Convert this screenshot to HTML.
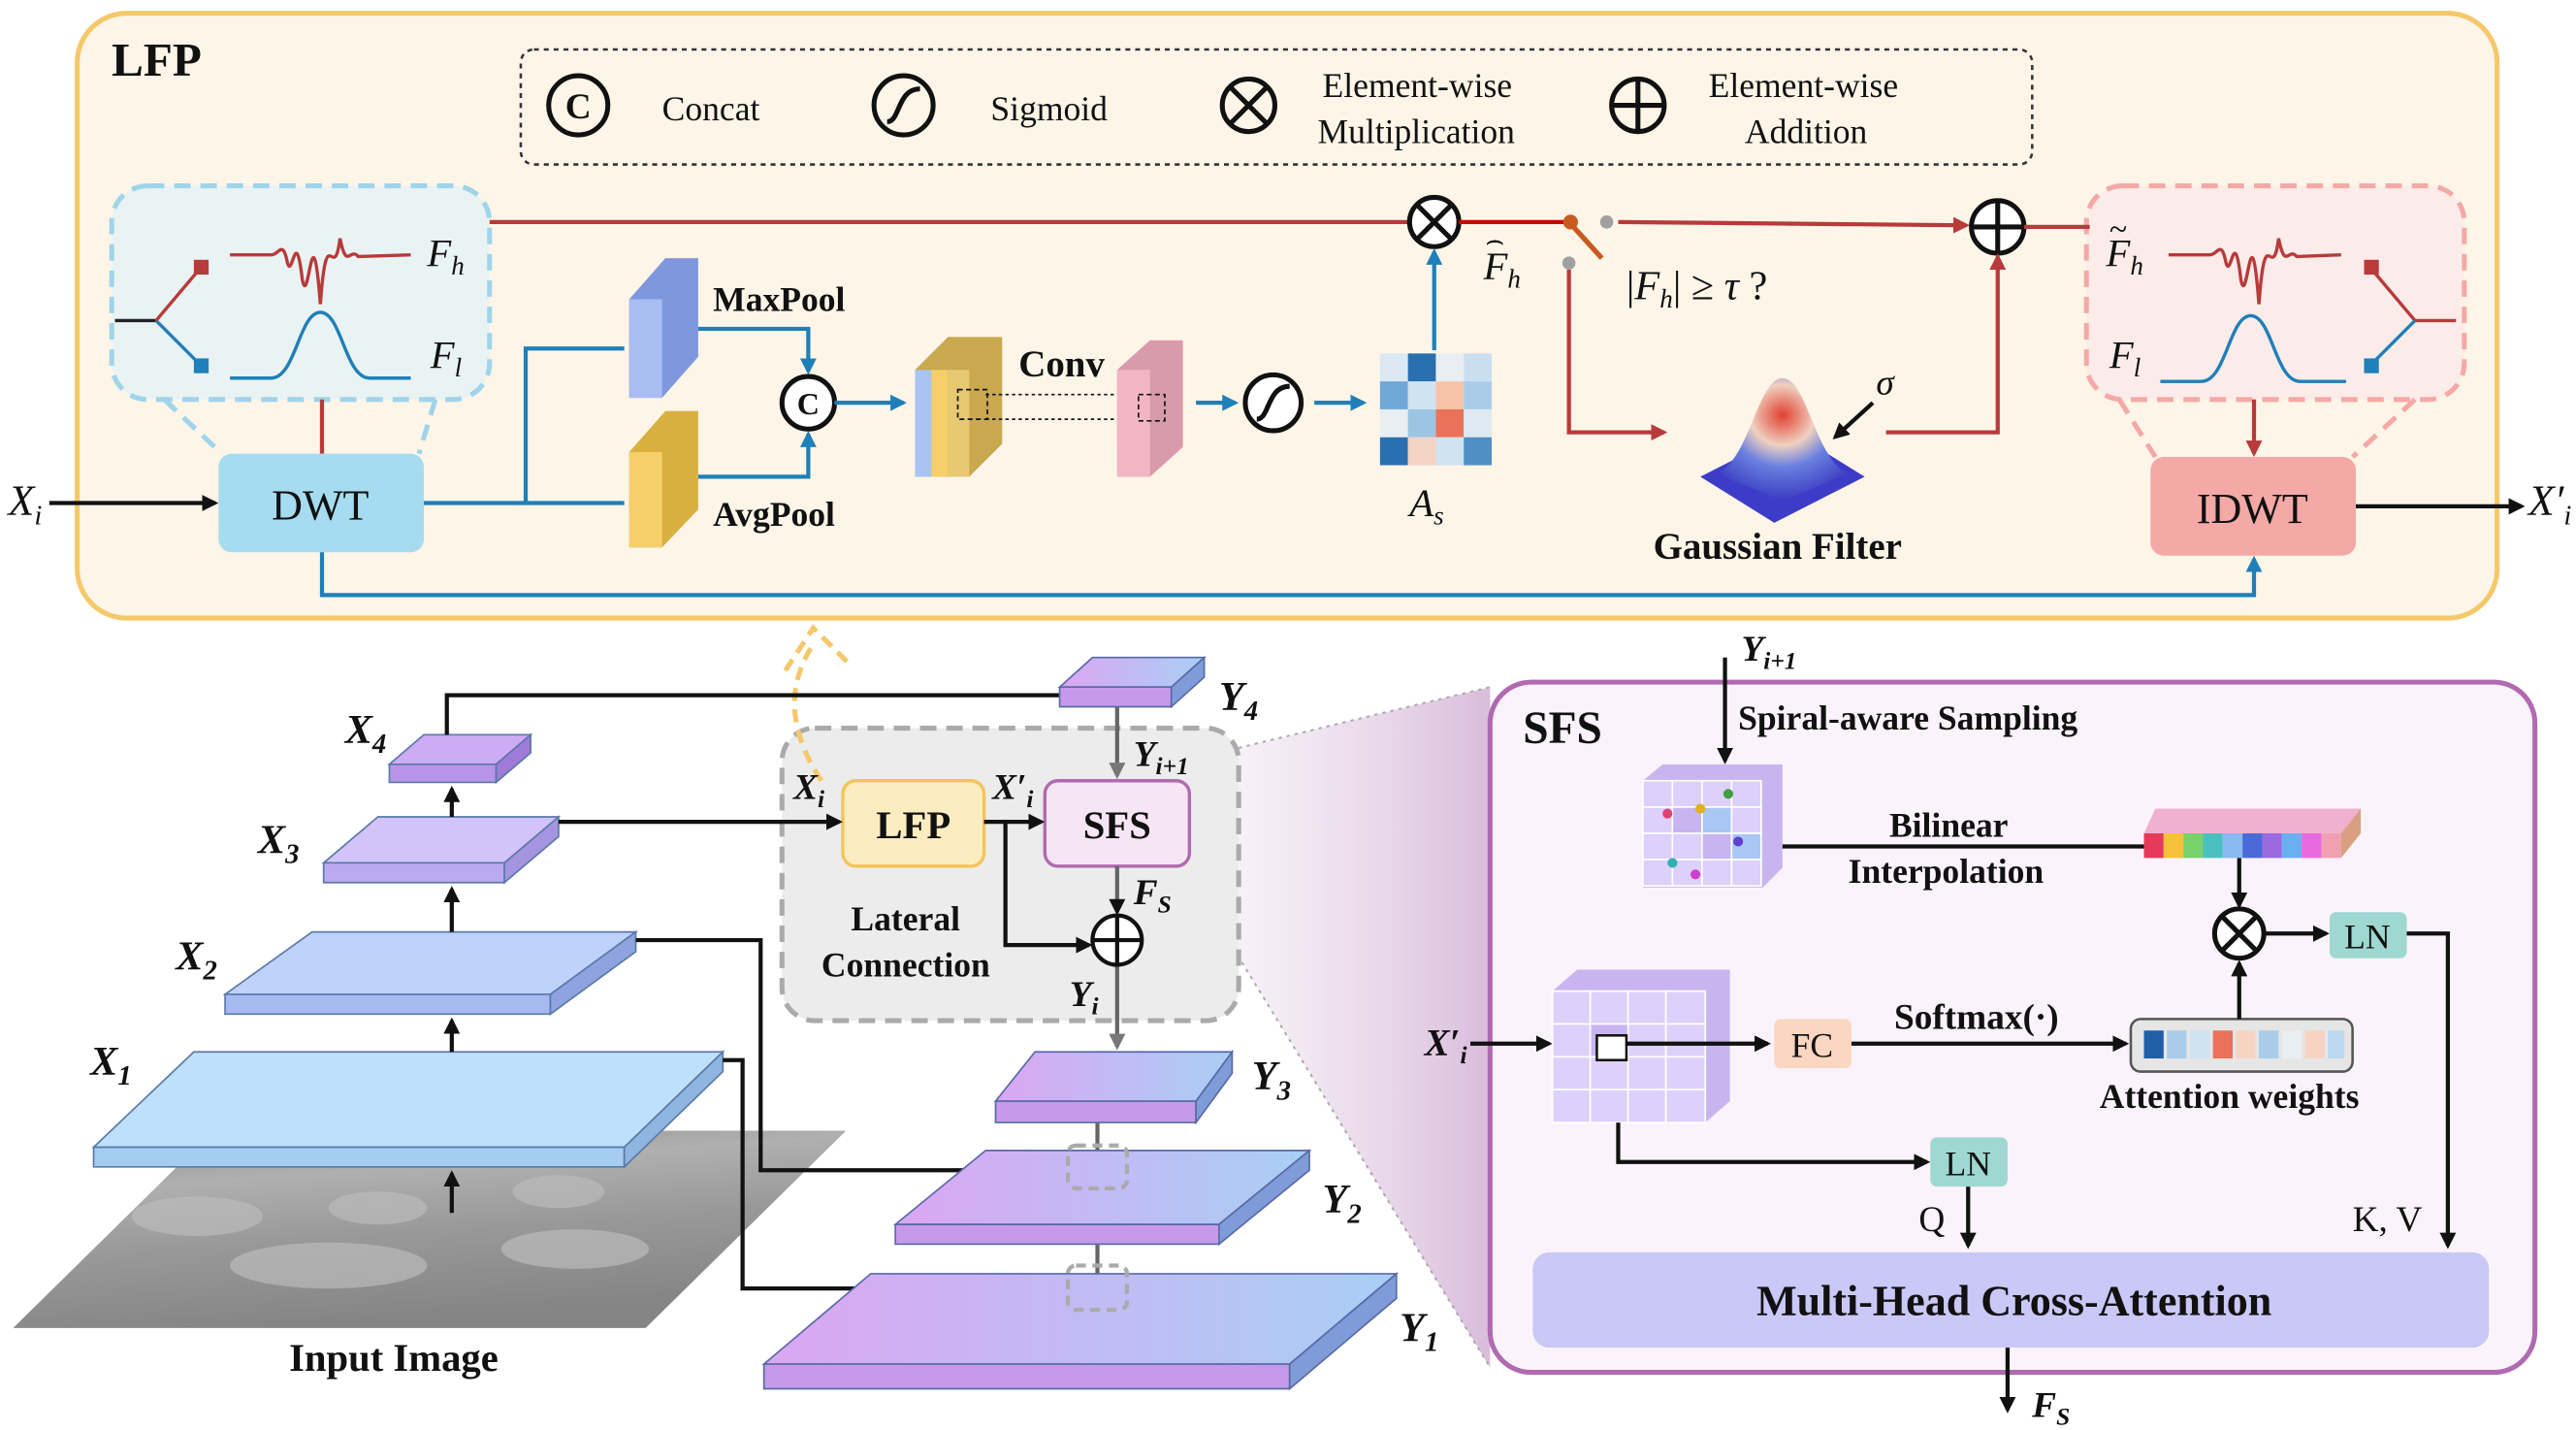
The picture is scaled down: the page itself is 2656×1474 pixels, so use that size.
<!DOCTYPE html>
<html><head><meta charset="utf-8"><style>
html,body{margin:0;padding:0;background:#fff}
svg{display:block}
text{font-family:"Liberation Serif",serif;fill:#111}
.b{font-weight:bold}
.i{font-style:italic}
</style></head><body>
<svg width="2656" height="1474" viewBox="0 0 1568 870" xmlns="http://www.w3.org/2000/svg">
<defs>
<marker id="ak" markerWidth="10" markerHeight="10" refX="8" refY="5" orient="auto" markerUnits="userSpaceOnUse"><path d="M0,0 L10,5 L0,10 z" fill="#111"/></marker>
<marker id="ab" markerWidth="10" markerHeight="10" refX="8" refY="5" orient="auto" markerUnits="userSpaceOnUse"><path d="M0,0 L10,5 L0,10 z" fill="#1f7fb8"/></marker>
<marker id="ar" markerWidth="10" markerHeight="10" refX="8" refY="5" orient="auto" markerUnits="userSpaceOnUse"><path d="M0,0 L10,5 L0,10 z" fill="#b83a3a"/></marker>
<marker id="ag" markerWidth="10" markerHeight="10" refX="8" refY="5" orient="auto" markerUnits="userSpaceOnUse"><path d="M0,0 L10,5 L0,10 z" fill="#777"/></marker>
<linearGradient id="gy" x1="0" x2="1"><stop offset="0" stop-color="#dba6f2"/><stop offset="1" stop-color="#a9cff5"/></linearGradient>
<linearGradient id="gimg" x1="0" y1="0" x2="0.3" y2="1"><stop offset="0" stop-color="#8a8a8a"/><stop offset=".3" stop-color="#b0b0b0"/><stop offset=".6" stop-color="#999"/><stop offset="1" stop-color="#858585"/></linearGradient>
<linearGradient id="gsh" x1="0" x2="1"><stop offset="0" stop-color="#e8d6ea" stop-opacity=".2"/><stop offset="1" stop-color="#c9a0cc" stop-opacity=".7"/></linearGradient>
<radialGradient id="gg" cx=".5" cy=".3" r=".7"><stop offset="0" stop-color="#e04030"/><stop offset=".35" stop-color="#f0d0c0"/><stop offset=".6" stop-color="#6a80e0"/><stop offset="1" stop-color="#3a3ac0"/></radialGradient>
</defs>

<rect x="47" y="8" width="1473" height="368" rx="30" fill="#fdf5e8" stroke="#f5c86a" stroke-width="3"/>
<text x="68" y="46" font-size="29" class="b">LFP</text>
<rect x="317" y="30" width="920" height="70" rx="8" fill="none" stroke="#333" stroke-width="1.5" stroke-dasharray="3,3"/>
<circle cx="352" cy="64" r="18" fill="none" stroke="#111" stroke-width="3"/><text x="352" y="72" font-size="22" text-anchor="middle" class="b">C</text>
<text x="403" y="73" font-size="21">Concat</text>
<circle cx="550" cy="64" r="18" fill="none" stroke="#111" stroke-width="3"/><path d="M540,74 C548,74 546,54 560,54" fill="none" stroke="#111" stroke-width="3"/>
<text x="603" y="73" font-size="21">Sigmoid</text>
<circle cx="760" cy="64" r="16" fill="none" stroke="#111" stroke-width="3"/><path d="M749,53 L771,75 M771,53 L749,75" stroke="#111" stroke-width="3"/>
<text x="805" y="59" font-size="21">Element-wise</text><text x="802" y="87" font-size="21">Multiplication</text>
<circle cx="997" cy="64" r="16" fill="none" stroke="#111" stroke-width="3"/><path d="M981,64 L1013,64 M997,48 L997,80" stroke="#111" stroke-width="3"/>
<text x="1040" y="59" font-size="21">Element-wise</text><text x="1062" y="87" font-size="21">Addition</text>

<rect x="68" y="113" width="230" height="130" rx="22" fill="#eaf3f3" stroke="#9fd4ea" stroke-width="3" stroke-dasharray="10,6"/>
<path d="M100,243 L135,276 M265,243 L255,276" stroke="#9fd4ea" stroke-width="3" stroke-dasharray="10,6"/>
<path d="M70,195 L95,195" fill="none" stroke="#222" stroke-width="2"/>
<path d="M95,195 L122,222" stroke="#1f7fb8" stroke-width="2"/><path d="M95,195 L122,163" stroke="#b83a3a" stroke-width="2"/>
<rect x="118" y="158" width="9" height="9" fill="#b83a3a"/><rect x="118" y="218" width="9" height="9" fill="#1f7fb8"/>
<path d="M140,155 L165,155 C170,155 172,145 175,160 C178,170 180,135 184,170 C188,190 190,120 195,185 C199,130 203,175 207,145 C211,165 213,150 218,156 L250,155" fill="none" stroke="#b83a3a" stroke-width="2"/>
<path d="M140,230 L165,230 C180,230 182,190 195,190 C208,190 210,230 225,230 L250,230" fill="none" stroke="#1f7fb8" stroke-width="2"/>
<text x="260" y="162" font-size="24" class="i">F<tspan font-size="16" dy="5">h</tspan></text>
<text x="262" y="224" font-size="24" class="i">F<tspan font-size="16" dy="5">l</tspan></text>

<rect x="1270" y="113" width="230" height="130" rx="22" fill="#fbecea" stroke="#f4a9a6" stroke-width="3" stroke-dasharray="10,6"/>
<path d="M1290,243 L1312,278 M1470,243 L1432,278" stroke="#f4a9a6" stroke-width="3" stroke-dasharray="10,6"/>
<path d="M1320,155 L1345,155 C1350,155 1352,145 1355,160 C1358,170 1360,135 1364,170 C1368,190 1370,120 1375,185 C1379,130 1383,175 1387,145 C1391,165 1393,150 1398,156 L1425,155" fill="none" stroke="#b83a3a" stroke-width="2"/>
<path d="M1315,232 L1340,232 C1355,232 1357,192 1370,192 C1383,192 1385,232 1400,232 L1428,232" fill="none" stroke="#1f7fb8" stroke-width="2"/>
<path d="M1443,163 L1470,195 L1495,195" fill="none" stroke="#b83a3a" stroke-width="2"/><path d="M1443,222 L1470,195" stroke="#1f7fb8" stroke-width="2"/>
<rect x="1439" y="158" width="9" height="9" fill="#b83a3a"/><rect x="1439" y="218" width="9" height="9" fill="#1f7fb8"/>
<text x="1282" y="162" font-size="24" class="i">F<tspan font-size="16" dy="5">h</tspan></text><text x="1284" y="146" font-size="20">~</text>
<text x="1284" y="224" font-size="24" class="i">F<tspan font-size="16" dy="5">l</tspan></text>

<line x1="196" y1="243" x2="196" y2="276" stroke="#b83a3a" stroke-width="2.5"/>
<line x1="1372" y1="243" x2="1372" y2="276" stroke="#b83a3a" stroke-width="2.5" marker-end="url(#ar)"/>
<rect x="133" y="276" width="125" height="60" rx="8" fill="#a6dcef"/>
<text x="195" y="316" font-size="26" text-anchor="middle">DWT</text>
<rect x="1309" y="278" width="125" height="60" rx="8" fill="#f4a9a6"/>
<text x="1371" y="318" font-size="26" text-anchor="middle">IDWT</text>
<text x="5" y="313" font-size="26" class="i">X<tspan font-size="17" dy="6">i</tspan></text>
<line x1="30" y1="306" x2="131" y2="306" stroke="#111" stroke-width="2.5" marker-end="url(#ak)"/>
<line x1="1434" y1="308" x2="1535" y2="308" stroke="#111" stroke-width="2.5" marker-end="url(#ak)"/>
<text x="1539" y="313" font-size="26" class="i">X′<tspan font-size="17" dy="6">i</tspan></text>

<line x1="298" y1="135" x2="858" y2="135" stroke="#b83a3a" stroke-width="2.5"/>
<circle cx="873" cy="135" r="15" fill="#fff" stroke="#111" stroke-width="3"/><path d="M863,125 L883,145 M883,125 L863,145" stroke="#111" stroke-width="3"/>
<line x1="888" y1="135" x2="995" y2="135" stroke="#c00" stroke-width="2.5"/>
<line x1="996" y1="135" x2="993" y2="135" stroke="none"/>
<line x1="956" y1="136" x2="975" y2="157" stroke="#c85a20" stroke-width="3"/>
<circle cx="996" cy="135" r="4" fill="#fdf5e8"/>
<rect x="957" y="130" width="40" height="10" fill="#fdf5e8"/>
<line x1="956" y1="136" x2="975" y2="157" stroke="#c85a20" stroke-width="3"/>
<circle cx="956" cy="135" r="4.5" fill="#c85a20"/><circle cx="978" cy="135" r="4" fill="#a0a0a0"/><circle cx="955" cy="160" r="4" fill="#a0a0a0"/>
<line x1="985" y1="135" x2="1197" y2="137" stroke="#b83a3a" stroke-width="2.5" marker-end="url(#ar)"/>
<circle cx="1216" cy="138" r="16" fill="#fff" stroke="#111" stroke-width="3"/><path d="M1200,138 L1232,138 M1216,122 L1216,154" stroke="#111" stroke-width="3"/>
<line x1="1232" y1="138" x2="1272" y2="138" stroke="#b83a3a" stroke-width="2.5"/>
<text x="903" y="170" font-size="24" class="i">F<tspan font-size="16" dy="5">h</tspan></text><text x="904" y="152" font-size="18">⌢</text>
<text x="990" y="182" font-size="25">|<tspan class="i">F</tspan><tspan font-size="16" dy="5" class="i">h</tspan><tspan dy="-5">| ≥ </tspan><tspan class="i">τ</tspan> ?</text>
<path d="M955,164 L955,263 L1013,263" fill="none" stroke="#b83a3a" stroke-width="2.5" marker-end="url(#ar)"/>
<path d="M1148,263 L1216,263 L1216,156" fill="none" stroke="#b83a3a" stroke-width="2.5" marker-end="url(#ar)"/>
<path d="M1035,290 L1080,318 L1135,290 L1090,262 Z" fill="#3c3cc8"/>
<path d="M1045,288 C1065,280 1070,230 1085,230 C1100,230 1105,280 1125,288 L1085,305 Z" fill="url(#gg)"/>
<text x="1082" y="340" font-size="23" class="b" text-anchor="middle">Gaussian Filter</text>
<text x="1142" y="240" font-size="22" class="i">σ</text>
<line x1="1140" y1="245" x2="1117" y2="266" stroke="#111" stroke-width="2.5" marker-end="url(#ak)"/>

<path d="M258,306 L380,306 M320,306 L320,212 L380,212" fill="none" stroke="#1f7fb8" stroke-width="2.5"/>
<path d="M425,200 L492,200 L492,226" fill="none" stroke="#1f7fb8" stroke-width="2.5" marker-end="url(#ab)"/>
<path d="M425,290 L492,290 L492,264" fill="none" stroke="#1f7fb8" stroke-width="2.5" marker-end="url(#ab)"/>
<path d="M196,336 L196,362 L1372,362 L1372,340" fill="none" stroke="#1f7fb8" stroke-width="2.5" marker-end="url(#ab)"/>
<path d="M383,182 L405,157 L425,157 L425,217 L403,242 L383,242 Z" fill="#7f97dd"/><rect x="383" y="182" width="20" height="60" fill="#a9bdf2"/>
<path d="M383,275 L405,250 L425,250 L425,310 L403,333 L383,333 Z" fill="#d9b040"/><rect x="383" y="275" width="20" height="58" fill="#f5cf6a"/>
<text x="434" y="189" font-size="21" class="b">MaxPool</text><text x="434" y="320" font-size="21" class="b">AvgPool</text>
<circle cx="492" cy="245" r="16" fill="#fff" stroke="#111" stroke-width="3"/><text x="492" y="252" font-size="19" text-anchor="middle" class="b">C</text>
<line x1="508" y1="245" x2="550" y2="245" stroke="#1f7fb8" stroke-width="2.5" marker-end="url(#ab)"/>
<path d="M557,225 L577,205 L610,205 L610,270 L590,290 L557,290 Z" fill="#c9a850"/>
<rect x="557" y="225" width="10" height="65" fill="#a9c3f2"/><rect x="567" y="225" width="10" height="65" fill="#f5cf6a"/><rect x="577" y="225" width="13" height="65" fill="#e8c870"/>
<rect x="583" y="237" width="18" height="18" fill="none" stroke="#111" stroke-dasharray="3,2"/>
<path d="M600,240 L695,240 M600,255 L695,255" stroke="#111" stroke-dasharray="2,2"/>
<text x="620" y="229" font-size="23" class="b">Conv</text>
<path d="M680,225 L700,207 L720,207 L720,272 L700,290 L680,290 Z" fill="#d99aab"/><rect x="680" y="225" width="20" height="65" fill="#f2b6c3"/>
<rect x="693" y="240" width="16" height="16" fill="none" stroke="#111" stroke-dasharray="3,2"/>
<line x1="728" y1="245" x2="752" y2="245" stroke="#1f7fb8" stroke-width="2.5" marker-end="url(#ab)"/>
<circle cx="775" cy="245" r="17" fill="#fff" stroke="#111" stroke-width="3"/><path d="M765,255 C773,255 771,235 785,235" fill="none" stroke="#111" stroke-width="3"/>
<line x1="800" y1="245" x2="830" y2="245" stroke="#1f7fb8" stroke-width="2.5" marker-end="url(#ab)"/>
<g>
<rect x="840" y="215" width="17" height="17" fill="#dde9f2"/><rect x="857" y="215" width="17" height="17" fill="#2a6fb0"/><rect x="874" y="215" width="17" height="17" fill="#e9eef3"/><rect x="891" y="215" width="17" height="17" fill="#c9dff0"/>
<rect x="840" y="232" width="17" height="17" fill="#6fa8d6"/><rect x="857" y="232" width="17" height="17" fill="#cfe3f1"/><rect x="874" y="232" width="17" height="17" fill="#f7c3a8"/><rect x="891" y="232" width="17" height="17" fill="#a9cde8"/>
<rect x="840" y="249" width="17" height="17" fill="#e8eef2"/><rect x="857" y="249" width="17" height="17" fill="#9cc5e4"/><rect x="874" y="249" width="17" height="17" fill="#e8735a"/><rect x="891" y="249" width="17" height="17" fill="#dfe9f1"/>
<rect x="840" y="266" width="17" height="17" fill="#2a6fb0"/><rect x="857" y="266" width="17" height="17" fill="#f3d3c4"/><rect x="874" y="266" width="17" height="17" fill="#cfe3f1"/><rect x="891" y="266" width="17" height="17" fill="#4f8fc6"/>
</g>
<text x="858" y="314" font-size="24" class="i">A<tspan font-size="16" dy="5">s</tspan></text>
<line x1="873" y1="213" x2="873" y2="153" stroke="#1f7fb8" stroke-width="2.5" marker-end="url(#ab)"/>

<path d="M8,808 L130,688 L515,688 L393,808 Z" fill="url(#gimg)"/>
<g fill="#bbb" opacity=".7"><ellipse cx="120" cy="740" rx="40" ry="12"/><ellipse cx="230" cy="735" rx="30" ry="10"/><ellipse cx="340" cy="725" rx="28" ry="10"/><ellipse cx="200" cy="770" rx="60" ry="14"/><ellipse cx="350" cy="760" rx="45" ry="12"/></g>
<text x="176" y="834" font-size="24" class="b">Input Image</text>
<g stroke="#5a7aa8" stroke-width="1">
<path d="M57,698 L118,640 L440,640 L380,698 Z" fill="#bfe0fa"/><path d="M57,698 L380,698 L380,710 L57,710 Z" fill="#a6ccef"/><path d="M380,698 L440,640 L440,652 L380,710 Z" fill="#8fb6e0"/>
<path d="M137,605 L190,567 L387,567 L335,605 Z" fill="#bfd2fa"/><path d="M137,605 L335,605 L335,617 L137,617 Z" fill="#a6baf0"/><path d="M335,605 L387,567 L387,579 L335,617 Z" fill="#8fa3e0"/>
<path d="M197,525 L230,497 L340,497 L307,525 Z" fill="#d3c3fa"/><path d="M197,525 L307,525 L307,537 L197,537 Z" fill="#bcaaf0"/><path d="M307,525 L340,497 L340,509 L307,537 Z" fill="#a594e0"/>
<path d="M237,465 L258,447 L323,447 L302,465 Z" fill="#cfaaf5"/><path d="M237,465 L302,465 L302,476 L237,476 Z" fill="#b893ea"/><path d="M302,465 L323,447 L323,458 L302,476 Z" fill="#a07ad8"/>
</g>
<g stroke="#111" stroke-width="2.5">
<line x1="275" y1="738" x2="275" y2="714" marker-end="url(#ak)"/>
<line x1="275" y1="640" x2="275" y2="621" marker-end="url(#ak)"/>
<line x1="275" y1="567" x2="275" y2="541" marker-end="url(#ak)"/>
<line x1="275" y1="497" x2="275" y2="480" marker-end="url(#ak)"/>
</g>
<text x="55" y="654" font-size="25" class="b i">X<tspan font-size="17" dy="6">1</tspan></text>
<text x="107" y="590" font-size="25" class="b i">X<tspan font-size="17" dy="6">2</tspan></text>
<text x="157" y="519" font-size="25" class="b i">X<tspan font-size="17" dy="6">3</tspan></text>
<text x="210" y="452" font-size="25" class="b i">X<tspan font-size="17" dy="6">4</tspan></text>

<path d="M754,455 L907,418 L907,832 L722,530 Z" fill="url(#gsh)"/>
<path d="M754,455 L907,418 M722,530 L907,832" stroke="#aaa" stroke-width="1.2" stroke-dasharray="2,3"/>

<rect x="476" y="443" width="278" height="178" rx="20" fill="#ececec" stroke="#aaa" stroke-width="3" stroke-dasharray="10,6"/>
<path d="M500,475 Q470,430 495,392" fill="none" stroke="#f5c86a" stroke-width="3" stroke-dasharray="8,5"/>
<path d="M478,408 L495,382 L518,405" fill="none" stroke="#f5c86a" stroke-width="3" stroke-dasharray="8,5"/>
<rect x="513" y="475" width="86" height="52" rx="8" fill="#fdecc0" stroke="#f4c45a" stroke-width="2"/>
<text x="556" y="510" font-size="24" class="b" text-anchor="middle">LFP</text>
<rect x="636" y="475" width="88" height="52" rx="8" fill="#f6e6f5" stroke="#b06ab0" stroke-width="2"/>
<text x="680" y="510" font-size="24" class="b" text-anchor="middle">SFS</text>
<text x="518" y="566" font-size="21" class="b">Lateral</text><text x="500" y="594" font-size="21" class="b">Connection</text>
<g stroke="#111" stroke-width="2.5" fill="none">
<path d="M272,447 L272,423 L645,423"/>
<line x1="340" y1="500" x2="511" y2="500" marker-end="url(#ak)"/>
<line x1="599" y1="500" x2="634" y2="500" marker-end="url(#ak)"/>
<path d="M612,500 L612,575 L663,575" marker-end="url(#ak)"/>
<path d="M387,572 L463,572 L463,712 L648,712" marker-end="url(#ak)"/>
<path d="M440,645 L452,645 L452,784 L648,784" marker-end="url(#ak)"/>
</g>
<g stroke="#666" stroke-width="2.5">
<line x1="680" y1="430" x2="680" y2="472" marker-end="url(#ag)"/>
<line x1="680" y1="527" x2="680" y2="555" marker-end="url(#ak)"/>
<line x1="680" y1="588" x2="680" y2="637" marker-end="url(#ag)"/>
<line x1="668" y1="683" x2="668" y2="717" marker-end="url(#ag)"/>
<line x1="668" y1="757" x2="668" y2="790" marker-end="url(#ag)"/>
</g>
<circle cx="680" cy="572" r="15" fill="#fff" stroke="#111" stroke-width="2.5"/><path d="M665,572 L695,572 M680,557 L680,587" stroke="#111" stroke-width="2.5"/>
<text x="483" y="486" font-size="22" class="b i">X<tspan font-size="15" dy="5">i</tspan></text>
<text x="604" y="486" font-size="22" class="b i">X′<tspan font-size="15" dy="5">i</tspan></text>
<text x="690" y="466" font-size="22" class="b i">Y<tspan font-size="15" dy="5">i+1</tspan></text>
<text x="690" y="550" font-size="22" class="b i">F<tspan font-size="15" dy="5">S</tspan></text>
<text x="651" y="612" font-size="22" class="b i">Y<tspan font-size="15" dy="5">i</tspan></text>

<g stroke="#5a6aa8" stroke-width="1">
<path d="M465,830 L530,775 L850,775 L785,830 Z" fill="url(#gy)"/><path d="M465,830 L785,830 L785,845 L465,845 Z" fill="#c69ae8"/><path d="M785,830 L850,775 L850,790 L785,845 Z" fill="#7f9cd8"/>
<path d="M545,745 L600,700 L797,700 L742,745 Z" fill="url(#gy)"/><path d="M545,745 L742,745 L742,757 L545,757 Z" fill="#c69ae8"/><path d="M742,745 L797,700 L797,712 L742,757 Z" fill="#7f9cd8"/>
<path d="M606,670 L630,640 L750,640 L728,670 Z" fill="url(#gy)"/><path d="M606,670 L728,670 L728,683 L606,683 Z" fill="#c69ae8"/><path d="M728,670 L750,640 L750,653 L728,683 Z" fill="#7f9cd8"/>
<path d="M645,418 L665,400 L733,400 L713,418 Z" fill="url(#gy)"/><path d="M645,418 L713,418 L713,430 L645,430 Z" fill="#c69ae8"/><path d="M713,418 L733,400 L733,412 L713,430 Z" fill="#7f9cd8"/>
</g>
<rect x="650" y="697" width="36" height="26" rx="5" fill="none" stroke="#aaa" stroke-width="2.5" stroke-dasharray="6,4"/>
<rect x="650" y="770" width="36" height="27" rx="5" fill="none" stroke="#aaa" stroke-width="2.5" stroke-dasharray="6,4"/>
<text x="742" y="432" font-size="25" class="b i">Y<tspan font-size="17" dy="6">4</tspan></text>
<text x="762" y="663" font-size="25" class="b i">Y<tspan font-size="17" dy="6">3</tspan></text>
<text x="805" y="738" font-size="25" class="b i">Y<tspan font-size="17" dy="6">2</tspan></text>
<text x="852" y="816" font-size="25" class="b i">Y<tspan font-size="17" dy="6">1</tspan></text>

<rect x="907" y="415" width="636" height="420" rx="25" fill="#fbf3fb" stroke="#b06ab0" stroke-width="3"/>
<text x="927" y="452" font-size="28" class="b">SFS</text>
<text x="1060" y="402" font-size="22" class="b i">Y<tspan font-size="15" dy="5">i+1</tspan></text>
<line x1="1050" y1="400" x2="1050" y2="463" stroke="#111" stroke-width="2.5" marker-end="url(#ak)"/>
<text x="1058" y="444" font-size="21" class="b">Spiral-aware Sampling</text>
<path d="M1000,475 L1012,465 L1085,465 L1085,528 L1073,540 L1000,540 Z" fill="#c8b5f0"/>
<g fill="#ddd0fa" stroke="#fff" stroke-width="1">
<rect x="1000" y="475" width="18" height="16"/><rect x="1018" y="475" width="18" height="16"/><rect x="1036" y="475" width="18" height="16"/><rect x="1054" y="475" width="18" height="16"/>
<rect x="1000" y="491" width="18" height="16"/><rect x="1036" y="491" width="18" height="16" fill="#a9c7f2"/><rect x="1054" y="491" width="18" height="16"/>
<rect x="1000" y="507" width="18" height="16"/><rect x="1018" y="507" width="18" height="16"/><rect x="1054" y="507" width="18" height="16" fill="#a9c7f2"/>
<rect x="1000" y="523" width="18" height="16"/><rect x="1018" y="523" width="18" height="16"/><rect x="1036" y="523" width="18" height="16"/><rect x="1054" y="523" width="18" height="16"/>
</g>
<g fill="#e04070"><circle cx="1015" cy="495" r="3"/><circle cx="1052" cy="483" r="3" fill="#40a040"/><circle cx="1058" cy="512" r="3" fill="#6040d0"/><circle cx="1032" cy="532" r="3" fill="#d040d0"/><circle cx="1018" cy="525" r="3" fill="#30b0b0"/><circle cx="1035" cy="492" r="3" fill="#e0b020"/></g>
<text x="1150" y="509" font-size="21" class="b">Bilinear</text><text x="1125" y="537" font-size="21" class="b">Interpolation</text>
<line x1="1085" y1="515" x2="1305" y2="515" stroke="#111" stroke-width="2.5"/>
<g>
<rect x="1305" y="507" width="12" height="15" fill="#e63a5a"/><rect x="1317" y="507" width="12" height="15" fill="#f5c23a"/><rect x="1329" y="507" width="12" height="15" fill="#7ad06a"/><rect x="1341" y="507" width="12" height="15" fill="#4ac0c0"/><rect x="1353" y="507" width="12" height="15" fill="#8ab8f0"/><rect x="1365" y="507" width="12" height="15" fill="#4a6ad8"/><rect x="1377" y="507" width="12" height="15" fill="#9a6ae0"/><rect x="1389" y="507" width="12" height="15" fill="#6ab0f0"/><rect x="1401" y="507" width="12" height="15" fill="#e86ae0"/><rect x="1413" y="507" width="12" height="15" fill="#f0a0b0"/>
<path d="M1305,507 L1312,492 L1437,492 L1425,507 Z" fill="#f0b0d0"/><path d="M1425,507 L1437,492 L1437,507 L1425,522 Z" fill="#d8a080"/>
</g>
<line x1="1363" y1="522" x2="1363" y2="551" stroke="#111" stroke-width="2.5" marker-end="url(#ak)"/>
<circle cx="1363" cy="568" r="15" fill="#fff" stroke="#111" stroke-width="3"/><path d="M1352,557 L1374,579 M1374,557 L1352,579" stroke="#111" stroke-width="3"/>
<line x1="1378" y1="568" x2="1416" y2="568" stroke="#111" stroke-width="2.5" marker-end="url(#ak)"/>
<rect x="1418" y="555" width="47" height="28" rx="4" fill="#9ed8d0"/><text x="1441" y="577" font-size="21" text-anchor="middle">LN</text>
<path d="M1465,568 L1490,568 L1490,758" fill="none" stroke="#111" stroke-width="2.5" marker-end="url(#ak)"/>
<text x="1432" y="749" font-size="22">K, V</text>
<text x="867" y="642" font-size="23" class="b i">X′<tspan font-size="15" dy="5">i</tspan></text>
<line x1="895" y1="635" x2="943" y2="635" stroke="#111" stroke-width="2.5" marker-end="url(#ak)"/>
<path d="M945,603 L960,590 L1053,590 L1053,670 L1038,683 L945,683 Z" fill="#c8b5f0"/>
<g fill="#ddd0fa" stroke="#fff" stroke-width="1">
<rect x="945" y="603" width="23" height="20"/><rect x="968" y="603" width="23" height="20"/><rect x="991" y="603" width="23" height="20"/><rect x="1014" y="603" width="24" height="20"/>
<rect x="945" y="623" width="23" height="20"/><rect x="991" y="623" width="23" height="20"/><rect x="1014" y="623" width="24" height="20"/>
<rect x="945" y="643" width="23" height="20"/><rect x="968" y="643" width="23" height="20"/><rect x="991" y="643" width="23" height="20"/><rect x="1014" y="643" width="24" height="20"/>
<rect x="945" y="663" width="23" height="20"/><rect x="968" y="663" width="23" height="20"/><rect x="991" y="663" width="23" height="20"/><rect x="1014" y="663" width="24" height="20"/>
</g>
<rect x="972" y="630" width="18" height="15" fill="#fff" stroke="#111" stroke-width="1.5"/>
<line x1="990" y1="635" x2="1076" y2="635" stroke="#111" stroke-width="2.5" marker-end="url(#ak)"/>
<rect x="1080" y="620" width="47" height="30" rx="4" fill="#fbd6c0"/><text x="1103" y="643" font-size="21" text-anchor="middle">FC</text>
<text x="1153" y="626" font-size="22" class="b">Softmax(·)</text>
<line x1="1127" y1="635" x2="1294" y2="635" stroke="#111" stroke-width="2.5" marker-end="url(#ak)"/>
<rect x="1297" y="620" width="135" height="32" rx="6" fill="#e6e6e6" stroke="#555" stroke-width="1.5"/>
<g><rect x="1305" y="627" width="12" height="17" fill="#1f5fa8"/><rect x="1319" y="627" width="12" height="17" fill="#a9cde8"/><rect x="1333" y="627" width="12" height="17" fill="#cfe3f1"/><rect x="1347" y="627" width="12" height="17" fill="#e8735a"/><rect x="1361" y="627" width="12" height="17" fill="#f7d3c4"/><rect x="1375" y="627" width="12" height="17" fill="#a9cde8"/><rect x="1389" y="627" width="12" height="17" fill="#e9eef3"/><rect x="1403" y="627" width="12" height="17" fill="#f7d3c4"/><rect x="1417" y="627" width="10" height="17" fill="#bcd8ee"/></g>
<text x="1278" y="674" font-size="21" class="b">Attention weights</text>
<line x1="1363" y1="620" x2="1363" y2="586" stroke="#111" stroke-width="2.5" marker-end="url(#ak)"/>
<path d="M985,683 L985,707 L1173,707" fill="none" stroke="#111" stroke-width="2.5" marker-end="url(#ak)"/>
<rect x="1175" y="692" width="47" height="30" rx="4" fill="#9ed8d0"/><text x="1198" y="715" font-size="21" text-anchor="middle">LN</text>
<line x1="1198" y1="722" x2="1198" y2="758" stroke="#111" stroke-width="2.5" marker-end="url(#ak)"/>
<text x="1168" y="749" font-size="22">Q</text>
<rect x="933" y="762" width="582" height="58" rx="10" fill="#c9c8f7"/>
<text x="1226" y="800" font-size="26" class="b" text-anchor="middle">Multi-Head Cross-Attention</text>
<line x1="1222" y1="820" x2="1222" y2="858" stroke="#111" stroke-width="2.5" marker-end="url(#ak)"/>
<text x="1237" y="862" font-size="22" class="b i">F<tspan font-size="15" dy="5">S</tspan></text>
</svg>
</body></html>
